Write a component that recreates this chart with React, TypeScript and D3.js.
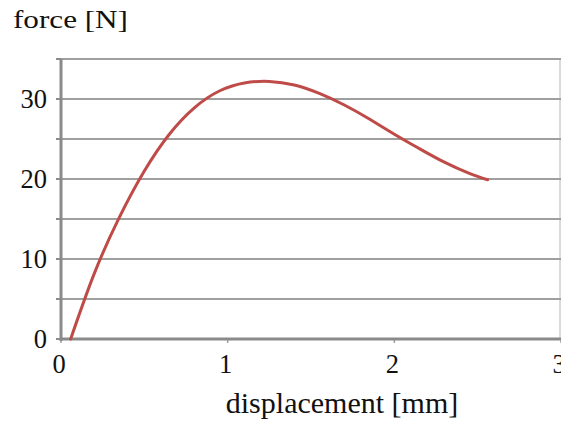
import React from "react";
import * as d3 from "d3";

const displacement = [0.058, 0.2, 0.35, 0.5, 0.65, 0.8, 0.95, 1.1, 1.25, 1.4, 1.55, 1.7, 1.85, 2.0, 2.15, 2.3, 2.45, 2.56];
const force = [0, 8.2, 15.2, 21.0, 25.6, 28.9, 31.0, 32.0, 32.2, 31.75, 30.7, 29.25, 27.5, 25.6, 23.8, 22.1, 20.7, 19.9];
const xTicks = [0, 1, 2, 3];
const yTicks = [0, 10, 20, 30];
const yGrid = [0, 5, 10, 15, 20, 25, 30, 35];
const xTitle = "displacement [mm]";
const yTitle = "force [N]";

const W = 561;
const H = 428;
const FONT = "'Liberation Serif', 'Times New Roman', serif";

export default function App() {
  const x = d3.scaleLinear().domain([0, 3]).range([61, 561]);
  const y = d3.scaleLinear().domain([0, 35]).range([339, 59]);
  const pts = displacement.map((d, i) => [d, force[i]] as [number, number]);
  const line = d3
    .line<[number, number]>()
    .x((d) => x(d[0]))
    .y((d) => y(d[1]))
    .curve(d3.curveNatural);

  return (
    <svg
      width={W}
      height={H}
      style={{ position: "absolute", left: 0, top: 0, background: "#fff" }}
    >
      <rect x={0} y={0} width={W} height={H} fill="#fff" />
      {/* right border */}
      <line x1={x(3) - 1} x2={x(3) - 1} y1={y(35)} y2={y(0)} stroke="#cfcfcf" strokeWidth={1.5} />
      {/* horizontal gridlines */}
      {yGrid.map((v) => (
        <g key={v}>
          <line x1={x(0)} x2={x(3)} y1={y(v)} y2={y(v)} stroke="#9f9f9f" strokeWidth={2} />
          <line x1={x(0) - 5} x2={x(0)} y1={y(v)} y2={y(v)} stroke="#8a8a8a" strokeWidth={2} />
        </g>
      ))}
      {/* x axis ticks */}
      {xTicks.map((v) => (
        <line key={v} x1={x(v)} x2={x(v)} y1={y(0)} y2={y(0) + 4} stroke="#a0a0a0" strokeWidth={1.5} />
      ))}
      {/* axes */}
      <line x1={x(0)} x2={x(0)} y1={y(35)} y2={y(0) + 2} stroke="#8a8a8a" strokeWidth={3} />
      <line x1={x(0)} x2={x(3)} y1={y(0)} y2={y(0)} stroke="#8a8a8a" strokeWidth={3} />
      {/* curve */}
      <path d={line(pts) || ""} fill="none" stroke="#be4b48" strokeWidth={3} strokeLinecap="round" />
      {/* y tick labels */}
      {yTicks.map((v) => (
        <text
          key={v}
          x={47}
          y={y(v)}
          dy="0.34em"
          textAnchor="end"
          fontFamily={FONT}
          fontSize={26.5}
          fill="#111"
        >
          {v}
        </text>
      ))}
      {/* x tick labels */}
      {xTicks.map((v) => (
        <text
          key={v}
          x={x(v) - 2}
          y={373}
          textAnchor="middle"
          fontFamily={FONT}
          fontSize={26.5}
          fill="#111"
        >
          {v}
        </text>
      ))}
      <text x={342} y={413} textAnchor="middle" fontFamily={FONT} fontSize={30} fill="#111">
        {xTitle}
      </text>
      <text x={13} y={28} fontFamily={FONT} fontSize={25} textLength={115} lengthAdjust="spacingAndGlyphs" fill="#111">
        {yTitle}
      </text>
    </svg>
  );
}
